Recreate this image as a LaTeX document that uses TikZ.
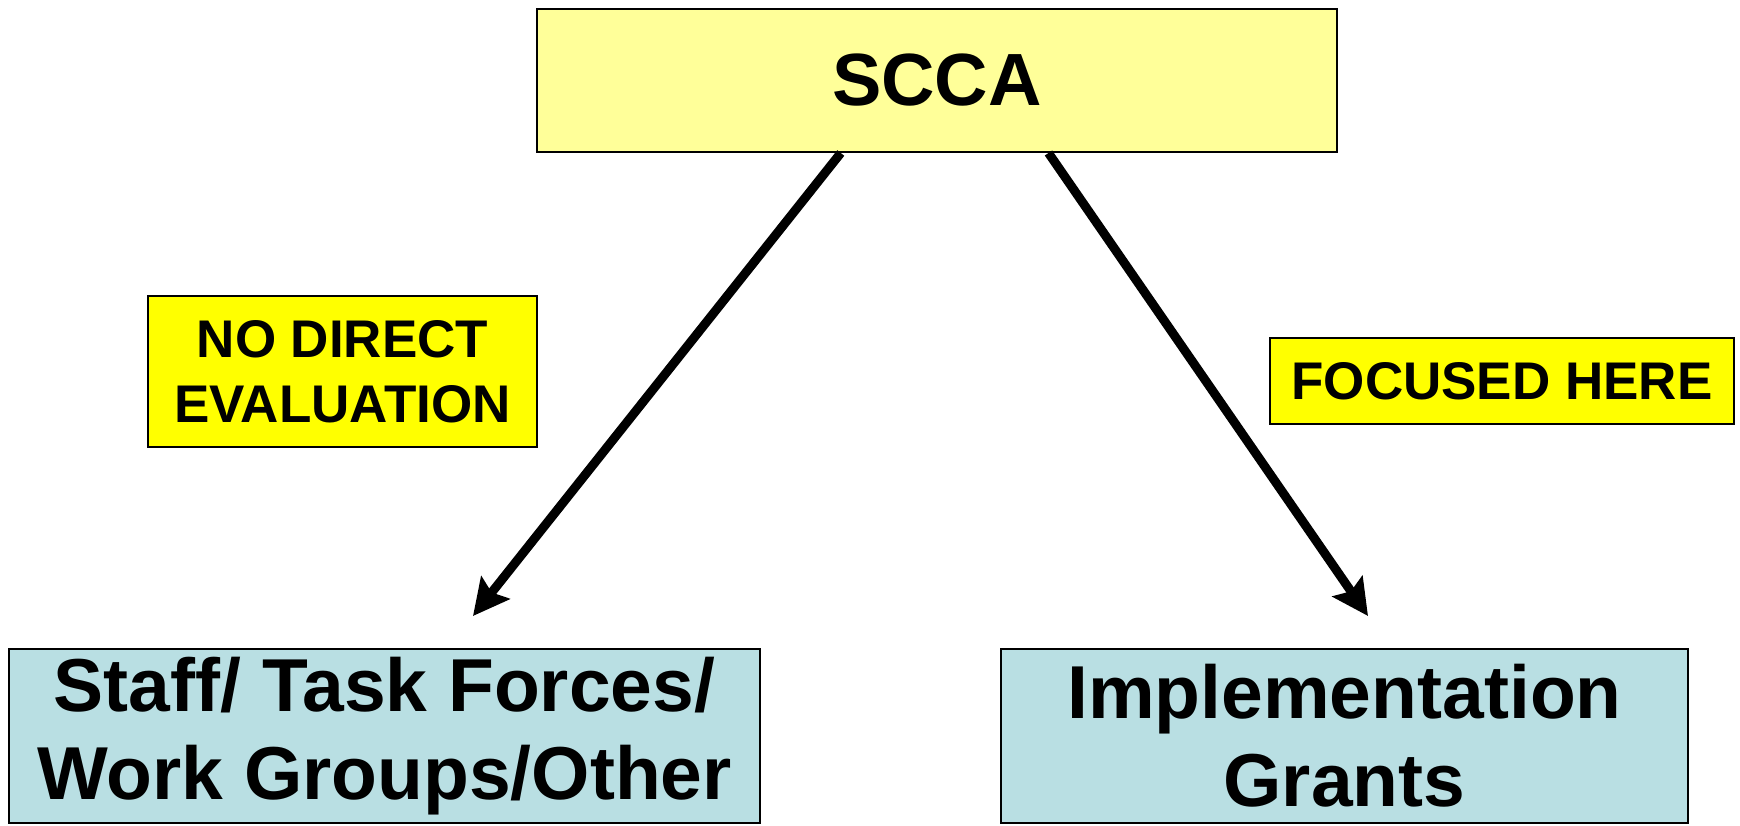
\documentclass[tikz,border=0pt]{standalone}
\usepackage{fontspec}
\setmainfont{Liberation Sans}
\usetikzlibrary{arrows.meta,calc}
\definecolor{paleyellow}{HTML}{FFFF99}
\definecolor{signyellow}{HTML}{FFFF00}
\definecolor{paleblue}{HTML}{B9DFE3}
\begin{document}
\begin{tikzpicture}[x=0.5pt, y=-0.5pt,
  box/.style={draw=black, line width=1pt, inner sep=0pt, align=center,
    font=\bfseries\fontsize{37.5}{44}\selectfont},
  sign/.style={box, fill=signyellow, font=\bfseries\fontsize{26.5}{32.5}\selectfont},
  link/.style={line width=4.5pt, -{Stealth[length=18pt, width=18pt, inset=3pt]}}]
  \useasboundingbox (0,0) rectangle (1740,825);
  % top and bottom boxes
  \node[box, fill=paleyellow, minimum width=400pt, minimum height=71.5pt,
    font=\bfseries\fontsize{37}{44}\selectfont] (scca) at (937,80.5) {SCCA};
  \node[box, fill=paleblue, minimum width=375.5pt, minimum height=87pt] (staff) at (384.5,736)
    {Staff/ Task Forces/\\Work Groups/Other};
  \node[box, fill=paleblue, minimum width=343.5pt, minimum height=87pt] (grants) at (1344.5,736)
    {Implementation\\Grants};
  % signs
  \node[sign, minimum width=194.5pt, minimum height=75.5pt] (noeval) at (342.5,371.5)
    {NO DIRECT\\EVALUATION};
  \node[sign, minimum width=232pt, minimum height=43pt] (focus) at (1502,381) {FOCUSED HERE};
  % arrows
  \coordinate (staffIn) at (473,616);
  \coordinate (grantsIn) at (1368,616);
  \draw[link] ($(scca.south west)!0.38!(scca.south east)$) -- (staffIn);
  \draw[link] ($(scca.south west)!0.639!(scca.south east)$) -- (grantsIn);
\end{tikzpicture}
\end{document}
